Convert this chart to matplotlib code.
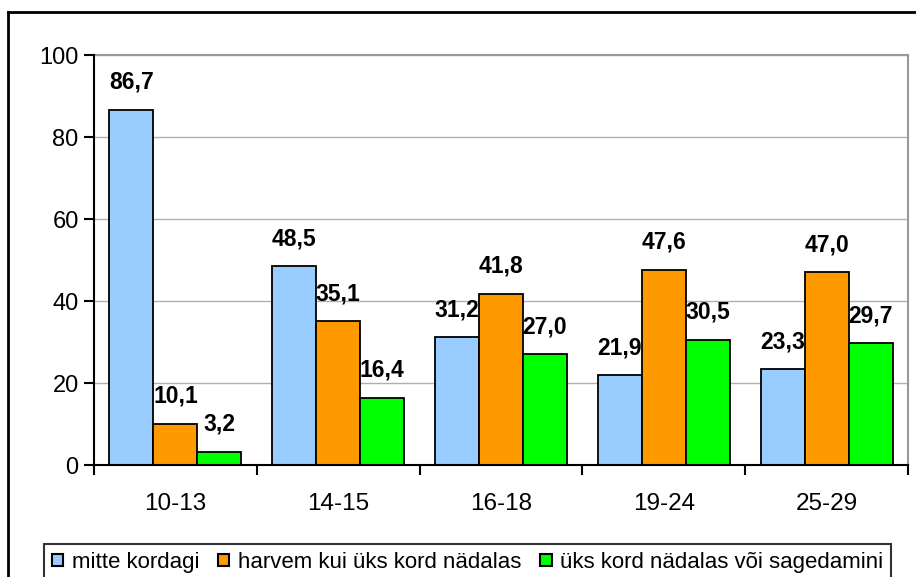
import numpy as np
import matplotlib.pyplot as plt
from matplotlib.patches import Patch
from matplotlib.lines import Line2D

plt.rcParams['font.family'] = ['Liberation Sans', 'DejaVu Sans']

groups = ['10-13', '14-15', '16-18', '19-24', '25-29']
series_names = ['mitte kordagi', 'harvem kui üks kord nädalas', 'üks kord nädalas või sagedamini']
mitte = [86.7, 48.5, 31.2, 21.9, 23.3]
harvem = [10.1, 35.1, 41.8, 47.6, 47.0]
iganadal = [3.2, 16.4, 27.0, 30.5, 29.7]
colors = ['#99CCFF', '#FF9900', '#00FF00']

W, H = 916, 577
fig = plt.figure(figsize=(W / 100, H / 100), dpi=100)
ax = fig.add_axes([94 / W, 1 - 465 / H, (908 - 94) / W, (465 - 55) / H])

x = np.arange(len(groups))
bw = 0.27
for i, (vals, c) in enumerate(zip([mitte, harvem, iganadal], colors)):
    pos = x + (i - 1) * bw
    ax.bar(pos, vals, bw, color=c, edgecolor='black', linewidth=1.3, zorder=3)
    for px, v in zip(pos, vals):
        ax.annotate(f'{v:.1f}'.replace('.', ','), (px, v), xytext=(0, 11.5),
                    textcoords='offset points', ha='center', va='bottom',
                    fontsize=16.5, fontweight='bold')

ax.set_xlim(-0.5, len(groups) - 0.5)
ax.set_ylim(0, 100)
ax.set_yticks(range(0, 101, 20))
ax.set_xticks(x)
ax.set_xticklabels(groups)
ax.set_xticks(np.arange(-0.5, len(groups)), minor=True)
ax.tick_params(axis='x', which='major', length=0, pad=20, labelsize=17.5)
ax.tick_params(axis='x', which='minor', length=7, width=1.5, direction='out')
ax.tick_params(axis='y', length=7, width=1.5, direction='out', labelsize=17, pad=4)
ax.grid(axis='y', color='#b0b0b0', linewidth=1, zorder=0)
for s in ['left', 'bottom']:
    ax.spines[s].set_linewidth(1.5)
    ax.spines[s].set_zorder(4)
for s in ['top', 'right']:
    ax.spines[s].set_color('#999999')
    ax.spines[s].set_linewidth(1.5)

# outer frame (only top and left visible)
fig.add_artist(Line2D([8 / W, 8 / W], [0, 1 - 12 / H], color='black', linewidth=2))
fig.add_artist(Line2D([8 / W, 1], [1 - 12 / H, 1 - 12 / H], color='black', linewidth=2))

handles = [Patch(facecolor=c, edgecolor='black', linewidth=1.5) for c in colors]
leg = fig.legend(handles, series_names, loc='upper left',
                 bbox_to_anchor=(44 / W, 1 - 544 / H), ncol=3,
                 frameon=True, fancybox=False, edgecolor='black',
                 prop={'size': 16},
                 handlelength=0.5, handleheight=0.5, handletextpad=0.4,
                 columnspacing=0.85, borderpad=0.35, borderaxespad=0)
leg.get_frame().set_linewidth(1.5)

fig.savefig('out.png', dpi=100)
